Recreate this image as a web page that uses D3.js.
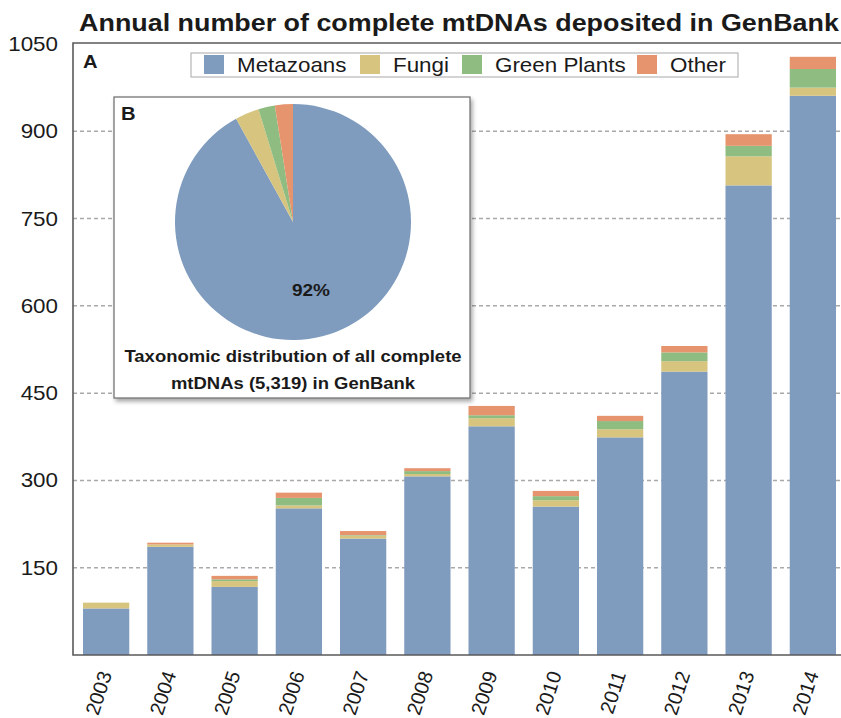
<!DOCTYPE html>
<html>
<head>
<meta charset="utf-8">
<script src="https://cdn.jsdelivr.net/npm/d3@7"></script>
<style>
  body { margin: 0; background: #fff; }
  text { font-family: "Liberation Sans", Arial, Helvetica, sans-serif; fill: #1a1a1a; }
</style>
</head>
<body>
<div id="chart"></div>
<script>
// data
const years = ['2003','2004','2005','2006','2007','2008','2009','2010','2011','2012','2013','2014'];
const metazoans   = [80, 186, 117, 252, 200, 307, 393, 255, 374, 487, 807, 961];
const fungi       = [10,   4,  10,   5,   5,   4,  14,  11,  14,  18,  50,  14];
const greenPlants = [ 0,   0,   3,  13,   1,   5,   5,   7,  14,  15,  18,  32];
const other       = [ 0,   3,   6,   9,   7,   5,  16,   9,   9,  11,  20,  21];
const groups = ['Metazoans', 'Fungi', 'Green Plants', 'Other'];
const yTicks = [0, 150, 300, 450, 600, 750, 900, 1050];
// inset pie: all complete mtDNAs (5,319)
const pieCounts = [4893, 175, 120, 131];

let width = 841;
let height = 718;
let margin = { top: 44, bottom: 63, left: 73, right: -4 };
const sx = 1.12; // the source text is a bit stretched sideways

let svg = d3.select('#chart')
            .append('svg')
            .attr('width', width)
            .attr('height', height);

const color = d3.scaleOrdinal()
  .domain(groups)
  .range(['#7f9bbd', '#d6c47f', '#8fbc80', '#e6946e']);

let yScale = d3.scaleLinear()
  .domain([0, 1050])
  .range([height - margin.bottom, margin.top]);

let xScale = d3.scaleBand()
  .domain(years)
  .range([margin.left + 1, width - margin.right])
  .paddingInner(0.28)
  .paddingOuter(0.14);

// helper for horizontally stretched labels
function label(x, y, str, size, weight, anchor) {
  return svg.append('text')
    .attr('transform', `translate(${x},${y}) scale(${sx},1)`)
    .attr('text-anchor', anchor || 'start')
    .style('font-size', size + 'px')
    .style('font-weight', weight || 'normal')
    .text(str);
}

// title
label(459, 31, 'Annual number of complete mtDNAs deposited in GenBank', 24, 'bold', 'middle');

// dashed grid
svg.append('g')
  .selectAll('line')
  .data(yTicks.filter(d => d > 0 && d < 1050))
  .enter().append('line')
  .attr('x1', margin.left)
  .attr('x2', width)
  .attr('y1', d => yScale(d))
  .attr('y2', d => yScale(d))
  .attr('stroke', '#a9a9a9')
  .attr('stroke-width', 1.5)
  .attr('stroke-dasharray', '4,3');

// y tick labels
yTicks.filter(d => d > 0).forEach(d => {
  label(58, yScale(d) + 7, d, 20, 'normal', 'end');
});

// stacked bars
const table = years.map((y, i) => ({
  year: y,
  'Metazoans': metazoans[i],
  'Fungi': fungi[i],
  'Green Plants': greenPlants[i],
  'Other': other[i]
}));
const stacked = d3.stack().keys(groups)(table);

svg.append('g')
  .selectAll('g')
  .data(stacked)
  .enter().append('g')
  .attr('fill', d => color(d.key))
  .selectAll('rect')
  .data(d => d)
  .enter().append('rect')
  .attr('x', d => xScale(d.data.year))
  .attr('y', d => yScale(d[1]))
  .attr('width', xScale.bandwidth())
  .attr('height', d => yScale(d[0]) - yScale(d[1]));

// frame: left axis, top line, bottom axis
svg.append('path')
  .attr('d', `M${width},${margin.top - 1}H${margin.left}V${height - margin.bottom}H${width}`)
  .attr('fill', 'none')
  .attr('stroke', '#5a5a5a')
  .attr('stroke-width', 1.6);

// x labels, rotated
years.forEach(y => {
  svg.append('text')
    .attr('transform', `translate(${xScale(y) + xScale.bandwidth() / 2 + 6},${height - margin.bottom + 19}) rotate(-72)`)
    .attr('text-anchor', 'end')
    .style('font-size', '20px')
    .text(y);
});

// panel letter A
label(83, 68, 'A', 18, 'bold');

// legend
const legend = svg.append('g');
legend.append('rect')
  .attr('x', 191).attr('y', 53)
  .attr('width', 547).attr('height', 24)
  .attr('fill', '#fff')
  .attr('stroke', '#a8a8a8')
  .attr('stroke-width', 1);
const legX = [204, 360, 462, 637];
groups.forEach((g, i) => {
  legend.append('rect')
    .attr('x', legX[i]).attr('y', 55)
    .attr('width', 20).attr('height', 19)
    .attr('fill', color(g));
  label(legX[i] + 33, 72, g, 20);
});

// inset B with pie
const defs = svg.append('defs');
const shadow = defs.append('filter').attr('id', 'shadow')
  .attr('x', '-5%').attr('y', '-5%').attr('width', '115%').attr('height', '115%');
shadow.append('feDropShadow')
  .attr('dx', 2).attr('dy', 3)
  .attr('stdDeviation', 2)
  .attr('flood-color', '#000')
  .attr('flood-opacity', 0.35);

svg.append('rect')
  .attr('x', 114).attr('y', 97)
  .attr('width', 356).attr('height', 301)
  .attr('fill', '#fff')
  .attr('stroke', '#6a6a6a')
  .attr('stroke-width', 1.2)
  .attr('filter', 'url(#shadow)');

label(121, 120, 'B', 18, 'bold');

const pie = d3.pie().sort(null).value(d => d)(pieCounts);
const arc = d3.arc().innerRadius(0).outerRadius(118);
svg.append('g')
  .attr('transform', 'translate(293,222)')
  .selectAll('path')
  .data(pie)
  .enter().append('path')
  .attr('d', arc)
  .attr('fill', (d, i) => color(groups[i]));

const total = d3.sum(pieCounts);
label(311, 296, Math.round(pieCounts[0] / total * 100) + '%', 17, 'bold', 'middle');

label(293, 362, 'Taxonomic distribution of all complete', 16.5, 'bold', 'middle');
label(293, 389, 'mtDNAs (' + d3.format(',')(total) + ') in GenBank', 16.5, 'bold', 'middle');
</script>
</body>
</html>
